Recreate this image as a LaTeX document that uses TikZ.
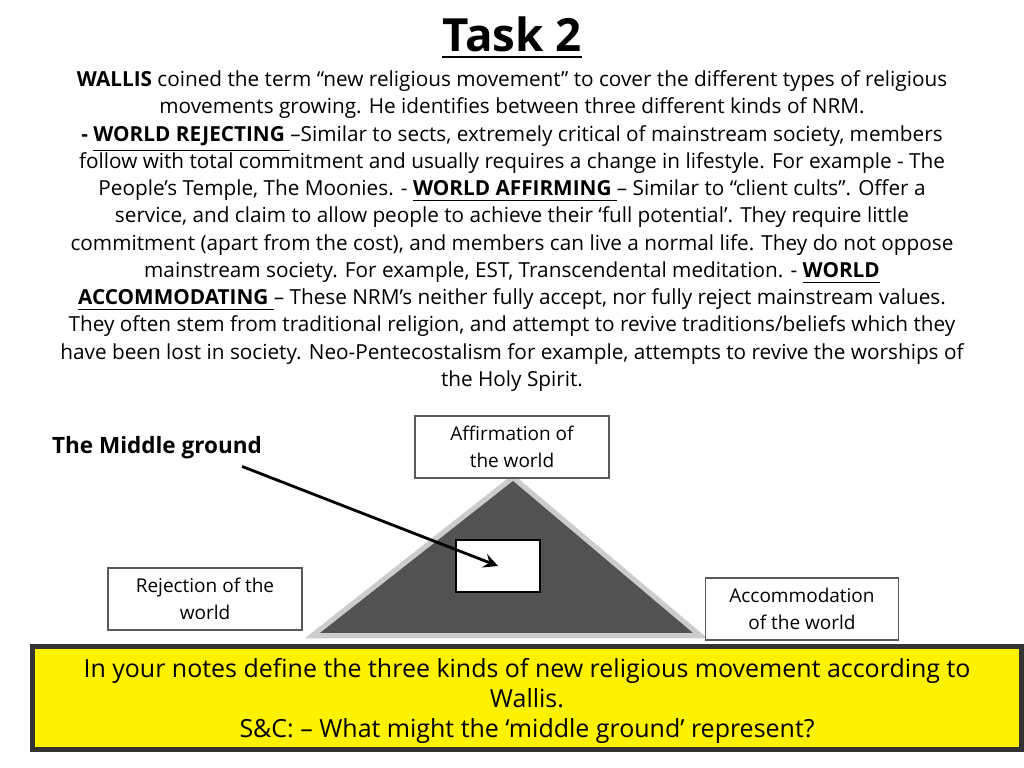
\documentclass[tikz,border=0pt]{standalone}
\usepackage{fontspec}
\setmainfont{Open Sans}
\usetikzlibrary{positioning}
\newcommand\tightlines{\lineskiplimit=-10pt\lineskip=0pt\relax}
\begin{document}
\begin{tikzpicture}[x=0.01cm,y=-0.01cm,
  labelbox/.style={draw=gray!70!black, fill=white, align=center, font=\fontsize{5.4pt}{7.8pt}\selectfont, inner sep=0pt}]
  % Rahmen
  \useasboundingbox (0,0) rectangle (1024,768);
  % Titel
  \node (title) at (512,38) {\fontsize{13pt}{16pt}\selectfont\bfseries\underline{Task 2}};
  % Text
  \node[align=center, font=\fontsize{5.9pt}{7.75pt}\selectfont\tightlines, inner sep=0pt] (text) at (512,231) {%
    \textbf{WALLIS} coined the term “new religious movement” to cover the different types of religious\\
    movements growing. He identifies between three different kinds of NRM.\\
    \textbf{- \underline{WORLD REJECTING }}–Similar to sects, extremely critical of mainstream society, members\\
    follow with total commitment and usually requires a change in lifestyle. For example - The\\
    People's Temple, The Moonies. - \textbf{\underline{WORLD AFFIRMING }}– Similar to “client cults”. Offer a\\
    service, and claim to allow people to achieve their ‘full potential’. They require little\\
    commitment (apart from the cost), and members can live a normal life. They do not oppose\\
    mainstream society. For example, EST, Transcendental meditation. - \textbf{\underline{WORLD}}\\
    \textbf{\underline{ACCOMMODATING }}– These NRM’s neither fully accept, nor fully reject mainstream values.\\
    They often stem from traditional religion, and attempt to revive traditions/beliefs which they\\
    have been lost in society. Neo-Pentecostalism for example, attempts to revive the worships of\\
    the Holy Spirit.};
  % Dreieck
  \coordinate (apex) at (513,481);
  \coordinate (bl) at (320,633);
  \coordinate (br) at (693,633);
  \draw[gray!40, line width=3pt] (apex) -- (bl) -- (br) -- cycle;
  \fill[black!68] (apex) -- (bl) -- (br) -- cycle;
  \node[draw=black, thick, fill=white, minimum width=0.84cm, minimum height=0.52cm, inner sep=0pt] (middle) at (498,566) {};
  % Kästen
  \node[labelbox, minimum width=1.94cm, minimum height=0.62cm] (affirm) at (512,447) {Affirmation of\\the world};
  \node[labelbox, minimum width=1.94cm, minimum height=0.62cm] (reject) at (205,599) {Rejection of the\\world};
  \node[labelbox, minimum width=1.93cm, minimum height=0.62cm] (accom) at (802,609) {Accommodation\\of the world};
  % Mittlerer Bereich
  \node[font=\fontsize{6.4pt}{8pt}\selectfont\bfseries, inner sep=1pt] (mg) at (157,448) {The Middle ground};
  \draw[->, thick, >=stealth] (mg.south east) ++(-24,3) -- (middle.center);
  % Aufgabe
  \node[draw=black!80, line width=1.5pt, fill=yellow, minimum width=9.88cm, minimum height=1.03cm, inner sep=0pt] (task) at (527,698) {};
  \node[align=center, inner sep=0pt, font=\fontsize{7.1pt}{8.5pt}\selectfont] (tasktext) at (527,701) {In your notes define the three kinds of new religious movement according to\\Wallis.\\S\&C: – What might the ‘middle ground’ represent?};
\end{tikzpicture}
\end{document}
